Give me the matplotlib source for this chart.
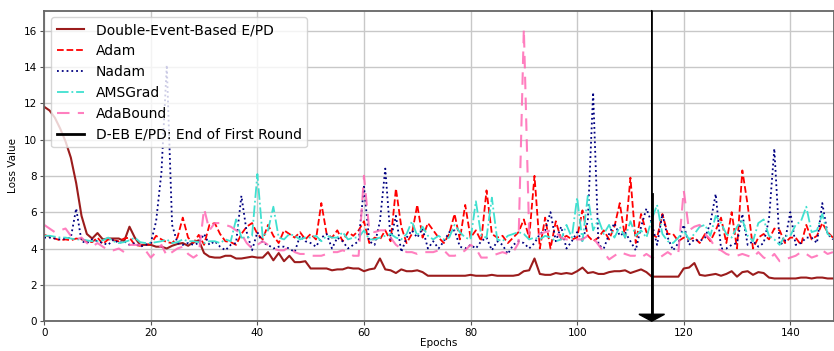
import numpy as np
import matplotlib
matplotlib.use('Agg')
import matplotlib.pyplot as plt

# loss per epoch
ebpd = [11.8, 11.6, 11.2, 10.6, 9.9, 9.0, 7.6, 5.8, 4.8, 4.55,
        4.85, 4.5, 4.55, 4.55, 4.55, 4.4, 5.2, 4.6, 4.2, 4.2,
        4.2, 4.1, 4.1, 4.0, 4.15, 4.25, 4.3, 4.15, 4.35, 4.45,
        3.75, 3.55, 3.5, 3.5, 3.6, 3.6, 3.45, 3.45, 3.5, 3.55,
        3.5, 3.5, 3.8, 3.35, 3.75, 3.3, 3.6, 3.25, 3.25, 3.3,
        2.9, 2.9, 2.9, 2.9, 2.8, 2.85, 2.85, 2.95, 2.9, 2.9,
        2.75, 2.85, 2.9, 3.45, 2.85, 2.8, 2.65, 2.85, 2.75, 2.75,
        2.8, 2.7, 2.5, 2.5, 2.5, 2.5, 2.5, 2.5, 2.5, 2.5,
        2.55, 2.5, 2.5, 2.5, 2.55, 2.5, 2.5, 2.5, 2.5, 2.55,
        2.75, 2.8, 3.45, 2.6, 2.55, 2.55, 2.65, 2.6, 2.65, 2.6,
        2.75, 2.95, 2.65, 2.7, 2.6, 2.6, 2.7, 2.75, 2.75, 2.8,
        2.65, 2.75, 2.85, 2.7, 2.45, 2.45, 2.45, 2.45, 2.45, 2.45,
        2.9, 2.95, 3.2, 2.55, 2.5, 2.55, 2.6, 2.5, 2.6, 2.75,
        2.45, 2.7, 2.75, 2.55, 2.7, 2.65, 2.4, 2.35, 2.35, 2.35,
        2.35, 2.35, 2.4, 2.4, 2.35, 2.4, 2.4, 2.35, 2.35]

adam = [4.75, 4.65, 4.55, 4.45, 4.5, 4.45, 4.55, 4.5, 4.4, 4.35,
        4.6, 4.25, 4.5, 4.45, 4.4, 4.55, 4.6, 4.2, 4.15, 4.2,
        4.25, 4.7, 4.5, 4.35, 4.3, 4.6, 5.7, 4.6, 4.3, 4.75,
        4.2, 5.3, 5.4, 4.8, 4.4, 4.35, 4.2, 4.8, 5.2, 5.4,
        4.8, 4.5, 5.3, 4.7, 4.3, 5.0, 4.8, 4.6, 4.9, 4.5,
        4.8, 4.5, 6.5, 4.8, 4.6, 5.0, 4.4, 4.9, 4.7, 5.0,
        5.5, 4.3, 4.6, 4.5, 5.0, 4.4, 7.3, 5.2, 4.3, 4.8,
        6.4, 4.6, 5.4, 5.0, 4.6, 4.3, 4.8, 5.9, 4.5, 6.4,
        4.6, 5.0, 4.4, 7.2, 4.8, 4.6, 4.7, 4.3, 4.6, 4.9,
        5.6, 4.6, 8.0, 4.0, 5.7, 4.0, 5.5, 4.5, 4.7, 4.5,
        4.6, 6.1, 4.7, 4.4, 4.6, 5.0, 4.5, 5.2, 6.5, 4.6,
        7.9, 4.3, 5.9, 4.9, 4.8, 4.6, 5.9, 4.8, 4.8, 4.4,
        4.6, 4.5, 4.6, 4.3, 4.8, 4.4, 5.0, 5.7, 4.3, 6.0,
        4.0, 8.3, 6.4, 4.0, 4.6, 4.8, 4.5, 5.1, 5.0, 4.3,
        4.6, 4.6, 4.2, 5.3, 4.5, 4.7, 5.4, 4.9, 4.6]

nadam = [4.6, 4.6, 4.55, 4.5, 4.55, 4.6, 6.2, 4.4, 4.3, 4.5,
         4.4, 4.3, 4.2, 4.5, 4.3, 4.4, 4.2, 4.3, 4.1, 4.2,
         4.3, 5.5, 8.2, 14.1, 5.3, 4.3, 4.2, 4.3, 4.2, 4.3,
         4.8, 4.2, 4.4, 4.1, 3.9, 4.2, 4.3, 6.9, 4.9, 3.9,
         4.9, 4.3, 4.2, 4.0, 4.1, 4.1, 4.0, 3.8, 4.7, 4.4,
         4.3, 4.1, 4.6, 4.8, 4.0, 4.6, 4.4, 4.0, 4.2, 4.4,
         7.4, 4.4, 4.2, 5.5, 8.4, 4.5, 5.8, 3.8, 4.6, 5.0,
         4.6, 5.1, 4.0, 4.4, 4.0, 4.4, 4.9, 5.0, 4.1, 4.0,
         4.2, 4.0, 4.4, 4.6, 3.9, 4.4, 4.2, 3.7, 4.2, 4.4,
         4.3, 4.0, 4.3, 4.8, 5.0, 6.0, 4.4, 5.2, 4.0, 4.4,
         4.9, 4.4, 5.5, 12.6, 4.2, 4.0, 4.8, 5.4, 4.7, 4.9,
         4.4, 3.9, 5.2, 6.2, 5.4, 4.2, 5.9, 4.6, 3.9, 4.3,
         5.3, 4.2, 4.5, 4.4, 4.6, 5.4, 7.0, 4.0, 4.0, 4.2,
         4.3, 5.9, 4.2, 4.4, 4.1, 4.3, 5.6, 9.5, 4.2, 4.4,
         6.0, 4.2, 4.3, 4.6, 4.6, 4.3, 6.5, 4.8, 4.5]

amsgrad = [4.7, 4.7, 4.65, 4.6, 4.6, 4.55, 4.5, 4.5, 4.45, 4.4,
           4.4, 4.45, 4.6, 4.4, 4.3, 4.35, 4.45, 4.6, 4.35, 4.3,
           4.3, 4.35, 4.4, 4.5, 4.3, 4.35, 4.5, 4.4, 4.4, 4.35,
           4.3, 4.4, 4.4, 4.3, 4.5, 4.4, 5.6, 4.6, 4.6, 4.7,
           8.1, 4.6, 5.0, 6.3, 4.6, 4.5, 4.8, 4.7, 4.5, 4.6,
           4.6, 4.7, 4.4, 4.7, 4.6, 4.6, 4.9, 4.5, 4.6, 4.6,
           5.0, 4.5, 4.5, 4.6, 4.7, 4.8, 4.6, 4.5, 4.8, 5.5,
           4.7, 5.2, 4.7, 4.5, 4.7, 4.5, 4.6, 5.3, 4.9, 4.6,
           4.5, 6.6, 4.7, 4.6, 6.8, 4.5, 4.4, 4.7, 4.8, 4.9,
           4.8, 4.5, 4.6, 4.5, 4.7, 4.6, 4.4, 4.5, 5.3, 4.6,
           6.8, 4.4, 6.9, 5.0, 5.6, 4.8, 5.3, 4.6, 5.2, 4.6,
           5.5, 4.7, 5.0, 4.6, 5.6, 6.4, 4.8, 4.4, 4.3, 4.6,
           5.0, 4.5, 4.8, 5.2, 5.3, 4.7, 5.8, 5.4, 4.8, 4.6,
           5.2, 5.6, 4.7, 4.4, 5.4, 5.6, 4.7, 4.5, 4.2, 4.7,
           4.7, 5.3, 5.5, 6.3, 4.9, 5.0, 5.9, 4.8, 4.6]

adabound = [5.3, 5.1, 4.9, 5.0, 5.1, 4.7, 4.5, 4.6, 4.3, 4.1,
            4.3, 4.1, 3.9, 3.9, 4.0, 3.8, 4.2, 4.2, 4.2, 3.9,
            3.5, 3.8, 4.2, 3.6, 3.8, 4.0, 4.1, 3.7, 3.5, 3.7,
            6.2, 5.0, 5.4, 5.4, 5.3, 5.2, 5.0, 4.8, 4.3, 4.0,
            4.2, 4.4, 4.2, 4.0, 3.9, 3.9, 4.1, 3.8, 3.7, 3.7,
            3.6, 3.6, 3.6, 3.7, 3.8, 3.8, 3.9, 3.8, 3.6, 3.6,
            8.0, 5.0, 4.9, 5.0, 5.0, 4.6, 4.2, 4.0, 3.8, 3.8,
            3.7, 3.8, 3.8, 3.8, 3.9, 3.9, 3.6, 3.6, 3.7, 3.9,
            4.2, 4.0, 3.5, 3.5, 3.6, 3.7, 3.8, 3.7, 3.8, 4.3,
            16.1, 4.8, 4.7, 4.8, 4.9, 5.0, 4.9, 4.6, 4.5, 4.5,
            4.5, 4.5, 4.7, 4.6, 4.2, 3.8, 3.4, 3.6, 3.8, 3.7,
            3.6, 3.6, 3.5, 3.7, 3.5, 3.4, 3.6, 3.8, 3.6, 3.8,
            7.2, 5.0, 5.2, 5.3, 4.8, 4.5, 4.0, 3.9, 3.7, 3.6,
            3.6, 3.7, 3.6, 3.5, 3.8, 3.5, 3.4, 3.7, 3.3, 3.4,
            3.5, 3.6, 3.8, 3.7, 3.5, 3.6, 3.9, 3.7, 3.8]

epochs = np.arange(len(ebpd))
end_first_round = 114

fig = plt.figure(figsize=(8.34, 3.51), dpi=100)
ax = fig.add_axes([0.053, 0.085, 0.947, 0.885])

ax.plot(epochs, ebpd, color='#9b1c1c', lw=1.5, label='Double-Event-Based E/PD')
ax.plot(epochs, adam, color='red', ls='--', lw=1.3, label='Adam')
ax.plot(epochs, nadam, color='navy', ls=':', lw=1.3, label='Nadam')
ax.plot(epochs, amsgrad, color='turquoise', ls='-.', lw=1.3, label='AMSGrad')
ax.plot(epochs, adabound, color='hotpink', ls=(0, (6, 4)), lw=1.5, alpha=0.85, label='AdaBound')
ax.plot([end_first_round, end_first_round], [0, 7], color='black', lw=2, label='D-EB E/PD: End of First Round')
ax.arrow(end_first_round, 17.1, 0, -17.1, head_width=4.8, head_length=0.38,
         length_includes_head=True, color='black', lw=1, clip_on=False, zorder=5)

ax.set_xlim(0, 148.2)
ax.set_ylim(0, 17.1)
ax.set_xticks(range(0, 141, 20))
ax.set_yticks(range(0, 17, 2))
ax.grid(True, color='#c8c8c8', lw=1)
ax.set_axisbelow(True)
ax.tick_params(labelsize=7.5, length=3, pad=2, color='#555555')
for s in ax.spines.values():
    s.set_color('#666666')
    s.set_linewidth(1.3)
ax.set_xlabel('Epochs', fontsize=7.5, labelpad=0)
ax.set_ylabel('Loss Value', fontsize=7.5)
ax.legend(loc='upper left', fontsize=10, framealpha=0.8)

fig.savefig('out.png', dpi=100)
